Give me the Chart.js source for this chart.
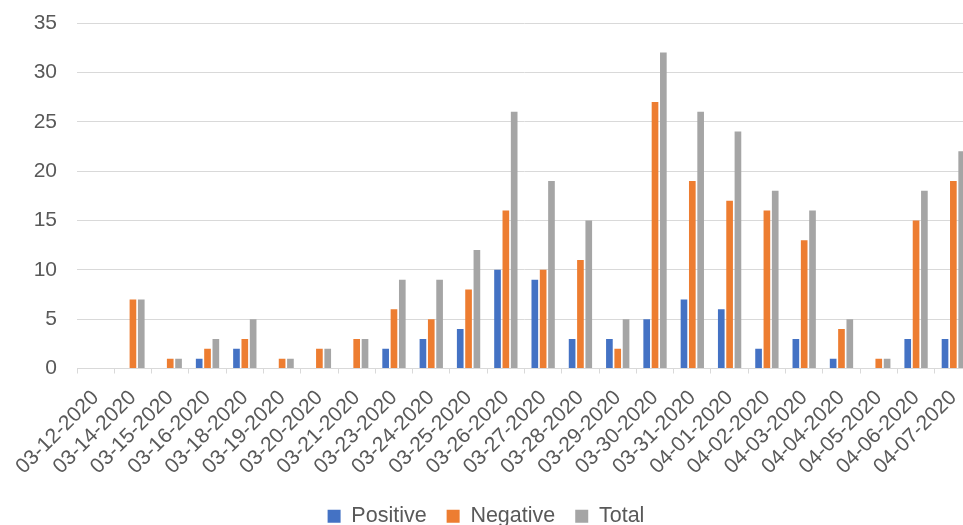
<!DOCTYPE html>
<html>
<head>
<meta charset="utf-8">
<script src="https://cdn.jsdelivr.net/npm/chart.js@4.4.1/dist/chart.umd.min.js"></script>
<style>
  html, body { margin: 0; padding: 0; background: #fff; overflow: hidden; }
  #wrap { position: absolute; left: 0; top: 0; width: 995px; height: 537px; }
</style>
</head>
<body>
<div id="wrap"><canvas id="c"></canvas></div>
<script>
const categories = ["03-12-2020","03-14-2020","03-15-2020","03-16-2020","03-18-2020","03-19-2020","03-20-2020","03-21-2020","03-23-2020","03-24-2020","03-25-2020","03-26-2020","03-27-2020","03-28-2020","03-29-2020","03-30-2020","03-31-2020","04-01-2020","04-02-2020","04-03-2020","04-04-2020","04-05-2020","04-06-2020","04-07-2020"];
const positive = [0,0,0,1,2,0,0,0,2,3,4,10,9,3,3,5,7,6,2,3,1,0,3,3];
const negative = [0,7,1,2,3,1,2,3,6,5,8,16,10,11,2,27,19,17,16,13,4,1,15,19];
const total    = [0,7,1,3,5,1,2,3,9,9,12,26,19,15,5,32,26,24,18,16,5,1,18,22];
const yTicks = [0,5,10,15,20,25,30,35];

const FONT = "'Liberation Sans', Arial, sans-serif";
const TXT = "#595959";

new Chart(document.getElementById("c"), {
  type: "bar",
  data: {
    labels: categories,
    datasets: [
      { label: "Positive", data: positive, backgroundColor: "#4472C4" },
      { label: "Negative", data: negative, backgroundColor: "#ED7D31" },
      { label: "Total", data: total, backgroundColor: "#A5A5A5" }
    ]
  },
  options: {
    responsive: true,
    maintainAspectRatio: false,
    animation: false,
    layout: { padding: { top: 23, right: 23, bottom: 0, left: 0 } },
    datasets: { bar: { categoryPercentage: 0.67, barPercentage: 0.8, borderWidth: 0 } },
    plugins: {
      tooltip: { enabled: false },
      legend: {
        position: "bottom",
        labels: {
          font: { family: FONT, size: 21.5 },
          color: TXT,
          boxWidth: 13,
          boxHeight: 13,
          padding: 20,
          generateLabels(chart) {
            const items = Chart.defaults.plugins.legend.labels.generateLabels(chart);
            items.forEach(i => { i.lineWidth = 0; });
            return items;
          }
        }
      }
    },
    scales: {
      x: {
        grid: { drawOnChartArea: false, drawTicks: true, tickLength: 5, color: "#D9D9D9", offset: true },
        border: { display: true, color: "#D9D9D9", width: 1 },
        ticks: {
          color: TXT,
          font: { family: FONT, size: 21 },
          maxRotation: 45, minRotation: 45,
          autoSkip: false,
          padding: 12
        },
        afterFit(scale) {
          scale.height = 117;
          scale.paddingLeft = 0; scale.paddingRight = 0;
          scale.paddingTop = 0; scale.paddingBottom = 0;
        }
      },
      y: {
        min: 0, max: 35,
        afterBuildTicks(scale) { scale.ticks = yTicks.map(v => ({ value: v })); },
        grid: { color: "#D9D9D9", lineWidth: 1, drawTicks: false },
        border: { display: false },
        ticks: {
          color: TXT,
          font: { family: FONT, size: 21 },
          padding: 20
        },
        afterFit(scale) {
          scale.width = 77;
          scale.paddingTop = 0; scale.paddingBottom = 0;
          scale.paddingLeft = 0; scale.paddingRight = 0;
        }
      }
    }
  }
});
</script>
</body>
</html>
